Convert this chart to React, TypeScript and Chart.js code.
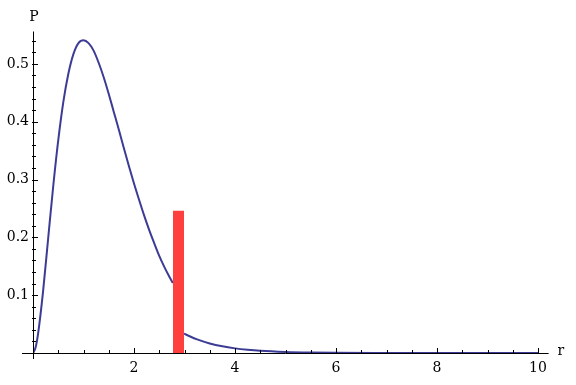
import React, { useEffect, useRef } from "react";
import { Chart, registerables } from "chart.js";

Chart.register(...registerables);

// Left branch of the curve (r, P)
const rLeft = [0, 0.05, 0.1, 0.2, 0.3, 0.4, 0.5, 0.6, 0.7, 0.8, 0.9, 1.0, 1.1, 1.2, 1.3, 1.4, 1.5, 1.6, 1.7, 1.8, 1.9, 2.0, 2.1, 2.2, 2.3, 2.4, 2.5, 2.6, 2.7, 2.77];
const pLeft = [0, 0.009, 0.033, 0.107, 0.198, 0.288, 0.368, 0.434, 0.483, 0.517, 0.536, 0.541, 0.536, 0.523, 0.502, 0.477, 0.448, 0.417, 0.386, 0.354, 0.323, 0.293, 0.265, 0.238, 0.213, 0.19, 0.168, 0.149, 0.132, 0.121];

// Right branch of the curve (r, P)
const rRight = [2.99, 3.1, 3.25, 3.5, 3.75, 4.0, 4.25, 4.5, 5.0, 5.5, 6.0, 7.0, 8.0, 9.0, 10.0];
const pRight = [0.0335, 0.029, 0.0235, 0.0165, 0.0115, 0.008, 0.0055, 0.0037, 0.0017, 0.00075, 0.00033, 0.00006, 0, 0, 0];

// Red bar
const barRange = [2.77, 2.99];
const barHeight = 0.246;

// Tick labels
const xTickValues = [2, 4, 6, 8, 10];
const yTickValues = [0.1, 0.2, 0.3, 0.4, 0.5];

const CURVE = "rgb(60,60,150)";
const RED = "#ff3e3e";
const FONT = "DejaVu Serif";

const axesPlugin = {
  id: "mmaAxes",
  afterDraw(chart: any) {
    const ctx = chart.ctx;
    const xs = chart.scales.x;
    const ys = chart.scales.y;
    const x0 = xs.getPixelForValue(0);
    const y0 = ys.getPixelForValue(0);
    ctx.save();
    ctx.strokeStyle = "#000";
    ctx.lineWidth = 1;
    ctx.beginPath();
    // x axis
    ctx.moveTo(x0 - 11, Math.round(y0) + 0.5);
    ctx.lineTo(xs.getPixelForValue(10.21), Math.round(y0) + 0.5);
    // y axis
    ctx.moveTo(Math.round(x0) + 0.5, ys.getPixelForValue(0.556));
    ctx.lineTo(Math.round(x0) + 0.5, y0 + 6);
    ctx.stroke();

    ctx.beginPath();
    // x ticks
    for (let i = 1; i <= 20; i++) {
      const v = i * 0.5;
      const major = xTickValues.includes(v);
      const px = Math.round(xs.getPixelForValue(v)) + 0.5;
      ctx.moveTo(px, y0);
      ctx.lineTo(px, y0 - (major ? 5 : 3));
    }
    // y ticks
    for (let i = 1; i <= 27; i++) {
      const v = i * 0.02;
      const major = i % 5 === 0;
      const py = Math.round(ys.getPixelForValue(v)) + 0.5;
      ctx.moveTo(x0 - 1, py);
      ctx.lineTo(x0 + (major ? 5 : 3), py);
    }
    ctx.stroke();

    ctx.fillStyle = "#000";
    ctx.font = `14px "${FONT}"`;
    ctx.textAlign = "center";
    ctx.textBaseline = "middle";
    ctx.fillText("P", x0 + 1, 17);
    ctx.fillText("r", xs.getPixelForValue(10.45), y0 - 2);
    ctx.restore();
  },
};

export default function App() {
  const ref = useRef<HTMLCanvasElement>(null);
  useEffect(() => {
    if (!ref.current) return;
    const chart = new Chart(ref.current, {
      type: "line",
      data: {
        datasets: [
          {
            data: barRange.map((r) => ({ x: r, y: barHeight })),
            borderWidth: 0,
            borderColor: RED,
            backgroundColor: RED,
            fill: "origin",
            pointRadius: 0,
            order: 0,
          },
          {
            data: rLeft.map((r, i) => ({ x: r, y: pLeft[i] })),
            borderColor: CURVE,
            borderWidth: 2,
            pointRadius: 0,
            fill: false,
            cubicInterpolationMode: "monotone",
            order: 1,
          },
          {
            data: rRight.map((r, i) => ({ x: r, y: pRight[i] })),
            borderColor: CURVE,
            borderWidth: 2,
            pointRadius: 0,
            fill: false,
            cubicInterpolationMode: "monotone",
            order: 1,
          },
        ],
      },
      options: {
        animation: false,
        responsive: false,
        maintainAspectRatio: false,
        layout: { padding: { left: 0, top: 35, right: 38, bottom: 0 } },
        plugins: { legend: { display: false }, tooltip: { enabled: false } },
        scales: {
          x: {
            type: "linear",
            min: 0,
            max: 10,
            grid: { display: false, drawTicks: false },
            border: { display: false },
            afterFit: (s: any) => {
              s.height = 32;
            },
            afterBuildTicks: (s: any) => {
              s.ticks = xTickValues.map((v) => ({ value: v }));
            },
            ticks: {
              padding: 7,
              maxRotation: 0,
              autoSkip: false,
              color: "#000",
              font: { family: FONT, size: 14 },
              callback: (v: any) => String(v),
            },
          },
          y: {
            type: "linear",
            min: 0,
            max: 0.55,
            grid: { display: false, drawTicks: false },
            border: { display: false },
            afterFit: (s: any) => {
              s.width = 33;
            },
            afterBuildTicks: (s: any) => {
              s.ticks = yTickValues.map((v) => ({ value: v }));
            },
            ticks: {
              padding: 4,
              autoSkip: false,
              color: "#000",
              font: { family: FONT, size: 14 },
              callback: (v: any) => Number(v).toFixed(1),
            },
          },
        },
      },
      plugins: [axesPlugin],
    } as any);
    return () => chart.destroy();
  }, []);
  return (
    <div style={{ position: "absolute", left: 0, top: 0, width: 576, height: 385, background: "#fff" }}>
      <canvas ref={ref} width={576} height={385} style={{ width: 576, height: 385 }} />
    </div>
  );
}
